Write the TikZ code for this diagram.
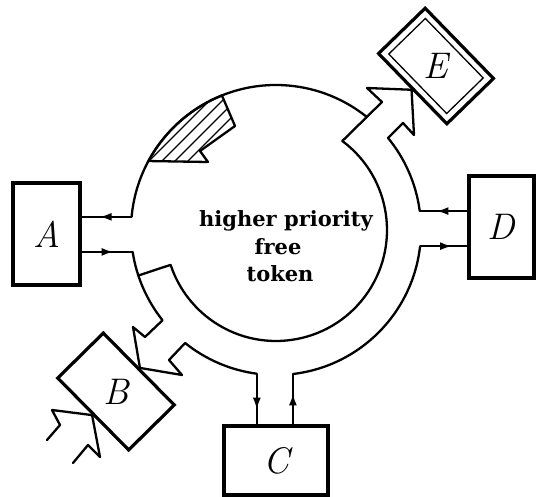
\documentclass[tikz,border=0pt]{standalone}
\usepackage{fontspec}
\newfontfamily\tokenfont{DejaVu Serif}
\usetikzlibrary{arrows.meta,decorations.markings,calc}
\begin{document}
\begin{tikzpicture}[x=1pt,y=-1pt,
  ring/.style={line width=2.3pt, line join=round, line cap=round},
  conn/.style={line width=2.2pt},
  boxline/.style={draw, line width=3.2pt, inner sep=0pt, font=\fontsize{37}{37}\selectfont\itshape},
  lbl/.style={font=\fontsize{37}{37}\selectfont\itshape, inner sep=0pt},
  tok/.style={font=\tokenfont\bfseries\fontsize{21}{21}\selectfont, inner sep=0pt, anchor=base},
  midarr/.style={postaction={decorate}, decoration={markings, mark=at position #1 with {\arrow{Latex[length=12pt,width=8pt]}}}}
]
\useasboundingbox (0,0) rectangle (544,497);
\coordinate (ctr) at (276,230);

% boxes
\node[boxline, minimum width=67pt, minimum height=102pt] (A) at (46.5,234) {A};
\node[boxline, minimum width=65pt, minimum height=102pt] (D) at (501.5,227) {D};
\node[boxline, minimum width=104pt, minimum height=69pt] (C) at (276,460.5) {C};
\node[boxline, minimum width=101pt, minimum height=64pt, rotate=-45.4] (B) at (116,391.5) {};
\node[lbl] (Bl) at (B.center) {B};
\node[boxline, minimum width=98pt, minimum height=65pt, rotate=-45.8] (E) at (436,66) {};
\node[draw, line width=1.3pt, inner sep=0pt, minimum width=83pt, minimum height=51pt, rotate=-45.8] (Ein) at (E.center) {};
\node[lbl] (El) at (E.center) {E};

% points on the outer circle
\coordinate (oA1) at ($(ctr)+(185.2:145)$);
\coordinate (oA2) at ($(ctr)+(171.3:145)$);
\coordinate (oD1) at ($(ctr)+(-7.5:145)$);
\coordinate (oD2) at ($(ctr)+(6.4:145)$);
\coordinate (oC1) at ($(ctr)+(97.6:145)$);
\coordinate (oC2) at ($(ctr)+(83.3:145)$);
\coordinate (Etip) at (E.south);

% outer arc from A over the top to E
\draw[ring] (oA1) arc[start angle=185.2, end angle=308.7, radius=145];
% left edge of E arrow, inner circle, radial wall
\draw[ring] (382,102) -- ($(ctr)+(-53.3:111)$) arc[start angle=-53.3, end angle=161.7, radius=111] -- ($(ctr)+(161.7:145)$);
% E arrowhead and outer arc down to D
\draw[ring] (382,102) -- (367,88) -- (Etip) -- (414,135) -- (403,123) -- ($(ctr)+(-39.4:145)$) arc[start angle=-39.4, end angle=-7.5, radius=145];
% outer arc D to C
\draw[ring] (oD2) arc[start angle=6.4, end angle=83.3, radius=145];
% outer arc C to B arrow
\draw[ring] (oC1) arc[start angle=97.6, end angle=128.8, radius=145] -- (169,360) -- (182,375) -- (B.north);
% outer arc A to B arrow
\draw[ring] (oA2) arc[start angle=171.3, end angle=141.5, radius=145] -- (145,337) -- (133,327) -- (B.north);
% input arrow into B
\draw[ring] (47,440) -- (60,425) -- (52,410) -- (B.south);
\draw[ring] (73,463) -- (88,445) -- (100,457) -- (B.south);

% hatched token
\begin{scope}
\clip ($(ctr)+(208.4:145)$) arc[start angle=208.4, end angle=248.1, radius=145] -- (235,126) -- (200,151) -- (208,162) -- cycle;
\foreach \c in {310,323,336,349} \draw[line width=1.4pt] (\c-170,170) -- (\c-70,70);
\end{scope}
\draw[ring] ($(ctr)+(208.4:145)$) arc[start angle=208.4, end angle=248.1, radius=145] -- (235,126) -- (200,151) -- (208,162) -- cycle;

% connectors
\draw[conn, midarr=32pt] (oA1) -- (A.east |- oA1);
\draw[conn, midarr=32pt] (A.east |- oA2) -- (oA2);
\draw[conn, midarr=31pt] (D.west |- oD1) -- (oD1);
\draw[conn, midarr=32pt] (oD2) -- (D.west |- oD2);
\draw[conn, midarr=36pt] (oC1) -- (oC1 |- C.north);
\draw[conn, midarr=31pt] (oC2 |- C.north) -- (oC2);

% text
\node[tok] (t1) at (286,227) {higher priority};
\node[tok] (t2) at (278,255) {free};
\node[tok] (t3) at (280,282) {token};
\end{tikzpicture}
\end{document}
